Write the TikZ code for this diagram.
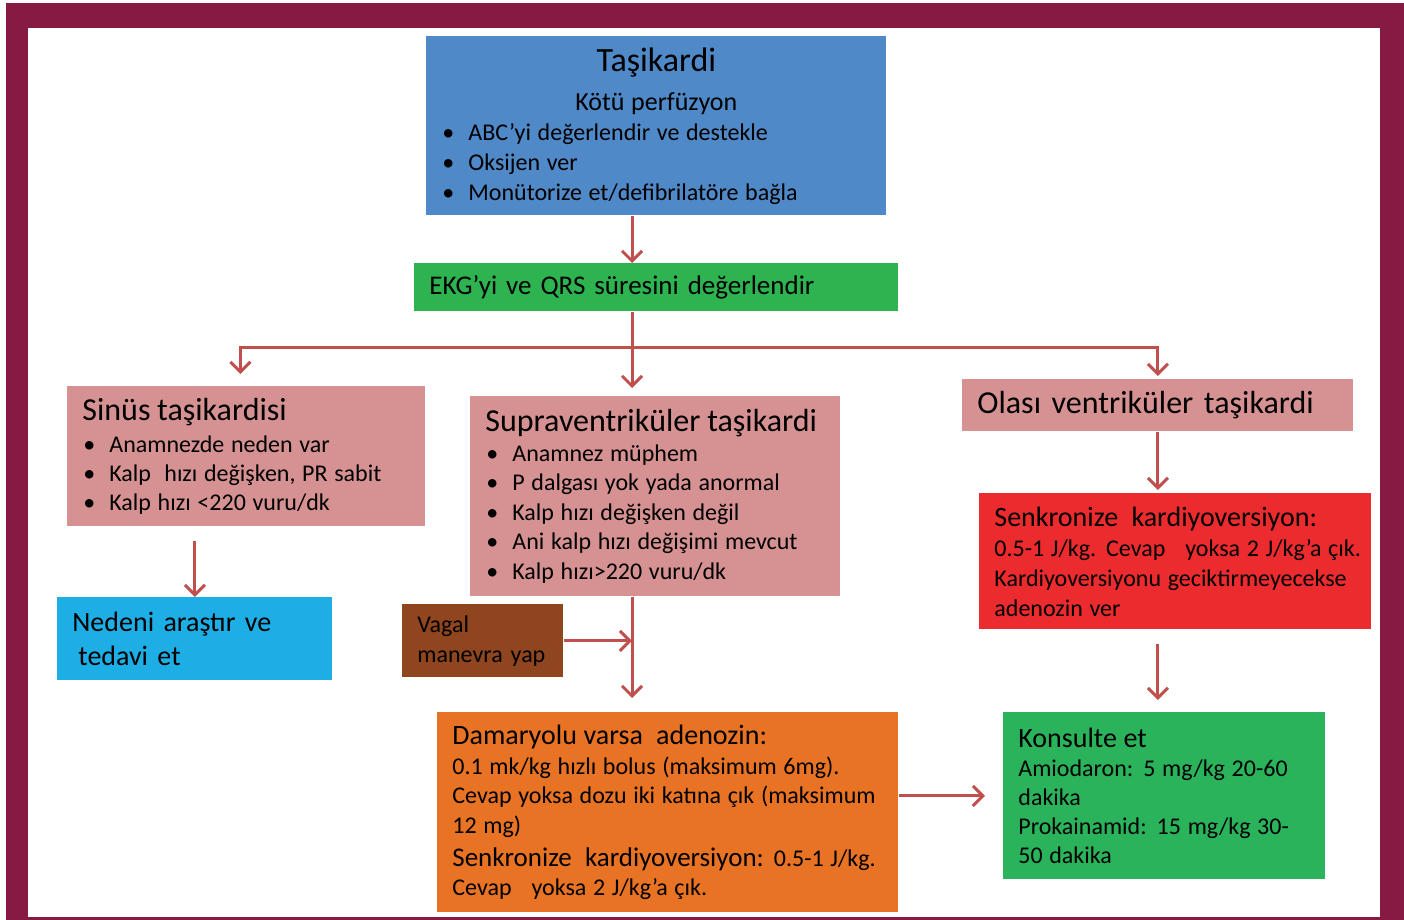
\documentclass[tikz,border=0pt]{standalone}
\usepackage{fontspec}
\setmainfont{Carlito}
\usepackage{tikz}
\usetikzlibrary{arrows.meta}
\definecolor{framemaroon}{HTML}{861A43}
\definecolor{headblue}{HTML}{4F89C7}
\definecolor{ekggreen}{HTML}{2DB34F}
\definecolor{rosebox}{HTML}{D69292}
\definecolor{skyblue}{HTML}{1DAEE5}
\definecolor{vagalbrown}{HTML}{8F451E}
\definecolor{shockred}{HTML}{EC2B2E}
\definecolor{adenorange}{HTML}{E87325}
\definecolor{consultgreen}{HTML}{2BB35B}
\definecolor{arrowred}{HTML}{C0504D}
\newcommand{\itembul}{\makebox[13.5pt][l]{\hspace{0.5pt}\textbullet}}
\newcommand{\fs}[2]{\fontsize{#1}{#2}\selectfont}

\begin{document}
\begin{tikzpicture}[x=0.5pt, y=-0.5pt,
    box/.style={rectangle, anchor=north west, align=left, inner xsep=7.5pt, inner ysep=0pt, text=black},
    arrow/.style={-{Straight Barb[length=5pt, width=10pt, line width=1.5pt]}, line width=1.5pt, draw=arrowred}
]
    % --- Frame ---
    \fill[white] (0,0) rectangle (1404,920);
    \fill[framemaroon] (6,3) rectangle (1404,920);
    \fill[white] (28,28) rectangle (1380,917);

    % --- Top: Taşikardi & EKG ---
    \node[box, fill=headblue, text width=215pt, minimum height=89.5pt] (head) at (426,36) {%
        {\fs{17}{20}\makebox[\hsize]{Taşikardi}\par}
        {\fs{13}{19.5}\makebox[\hsize]{Kötü perfüzyon}\par}
        {\fs{12}{15}\itembul ABC’yi değerlendir ve destekle\par
        \itembul Oksijen ver\par
        \itembul Monütorize et/defibrilatöre bağla\par}};
    \node[box, fill=ekggreen, text width=227pt, minimum height=24pt, font=\fs{13.5}{16}] (ekg) at (414,263) {EKG’yi ve QRS süresini değerlendir};
    \coordinate (split) at (632,347);

    % --- Level 2: three branches ---
    \node[box, fill=rosebox, text width=164pt, minimum height=70pt] (sinus) at (67,386) {%
        {\fs{16}{19}Sinüs taşikardisi\par}\vspace{1.5pt}
        {\fs{12}{14.5}\itembul Anamnezde neden var\par
        \itembul Kalp\ \ hızı değişken, PR sabit\par
        \itembul Kalp hızı <220 vuru/dk\par}};
    \node[box, fill=rosebox, text width=170pt, minimum height=100pt] (svt) at (470,396) {%
        {\fs{16}{19}Supraventriküler taşikardi\par}
        {\fs{12}{14.75}\itembul Anamnez müphem\par
        \itembul P dalgası yok yada anormal\par
        \itembul Kalp hızı değişken değil\par
        \itembul Ani kalp hızı değişimi mevcut\par
        \itembul Kalp hızı>220 vuru/dk\par}};
    \node[box, fill=rosebox, text width=180.5pt, minimum height=26pt, font=\fs{16}{19}] (olasi) at (962,379) {Olası ventriküler taşikardi};

    % --- Level 3 ---
    \node[box, fill=skyblue, text width=122.5pt, minimum height=41.5pt, font=\fs{14}{17}] (nedeni) at (57,597) {Nedeni araştır ve\par\hspace*{3pt}tedavi et};
    \node[box, fill=vagalbrown, text width=65.5pt, minimum height=36.5pt, font=\fs{12}{15}] (vagal) at (402,604) {Vagal\par manevra yap};
    \node[box, fill=shockred, text width=181pt, minimum height=68pt] (senk) at (979,493) {%
        {\fs{14}{16}Senkronize\ \ kardiyoversiyon:\par}
        {\fs{12}{15}\mbox{0.5-1 J/kg. Cevap\ \ \ yoksa 2 J/kg’a çık.}\par
        \mbox{Kardiyoversiyonu geciktirmeyecekse}\par
        adenozin ver\par}};

    % --- Level 4 ---
    \node[box, fill=adenorange, text width=215.5pt, minimum height=100pt] (adenoz) at (437,712) {%
        {\fs{14}{16}Damaryolu varsa\ \ adenozin:\par}
        {\fs{12}{14.75}\mbox{0.1 mk/kg hızlı bolus (maksimum 6mg).}\par
        \mbox{Cevap yoksa dozu iki katına çık (maksimum}\par
        12 mg)\par}
        {\fs{12}{16.5}\mbox{{\fs{13.5}{16}Senkronize\ \ kardiyoversiyon:} 0.5-1 J/kg.}\par}
        {\fs{12}{14.5}Cevap\ \ \ yoksa 2 J/kg’a çık.\par}};
    \node[box, fill=consultgreen, text width=146pt, minimum height=83.5pt] (konsult) at (1003,712) {%
        {\fs{14}{16}Konsulte et\par}
        {\fs{12}{14.5}Amiodaron: 5 mg/kg 20-60\par
        dakika\par
        Prokainamid: 15 mg/kg 30-\par
        50 dakika\par}};

    % Connections
    \draw[arrow] (head.south -| split) -- (ekg.north -| split);
    \draw[arrow, shorten >=4pt] (ekg.south -| split) -- (svt.north -| split);
    \draw[arrow, shorten >=6pt] (split) -| ([xshift=-3pt]sinus.north);
    \draw[arrow, shorten >=1.5pt] (split) -| (olasi.north);
    \draw[arrow, shorten <=7pt] (sinus.south -| nedeni.north) -- (nedeni.north);
    \draw[arrow, shorten >=7pt] (svt.south -| split) -- (adenoz.north -| split);
    \draw[arrow] (vagal.east) -- (vagal.east -| split);
    \draw[arrow, shorten >=9pt] (adenoz.east |- konsult.west) -- (konsult.west);
    \draw[arrow, shorten >=1.5pt] (olasi.south) -- (olasi.south |- senk.north);
    \draw[arrow, shorten <=7pt, shorten >=6pt] (senk.south -| olasi.south) -- (konsult.north -| olasi.south);
\end{tikzpicture}
\end{document}
